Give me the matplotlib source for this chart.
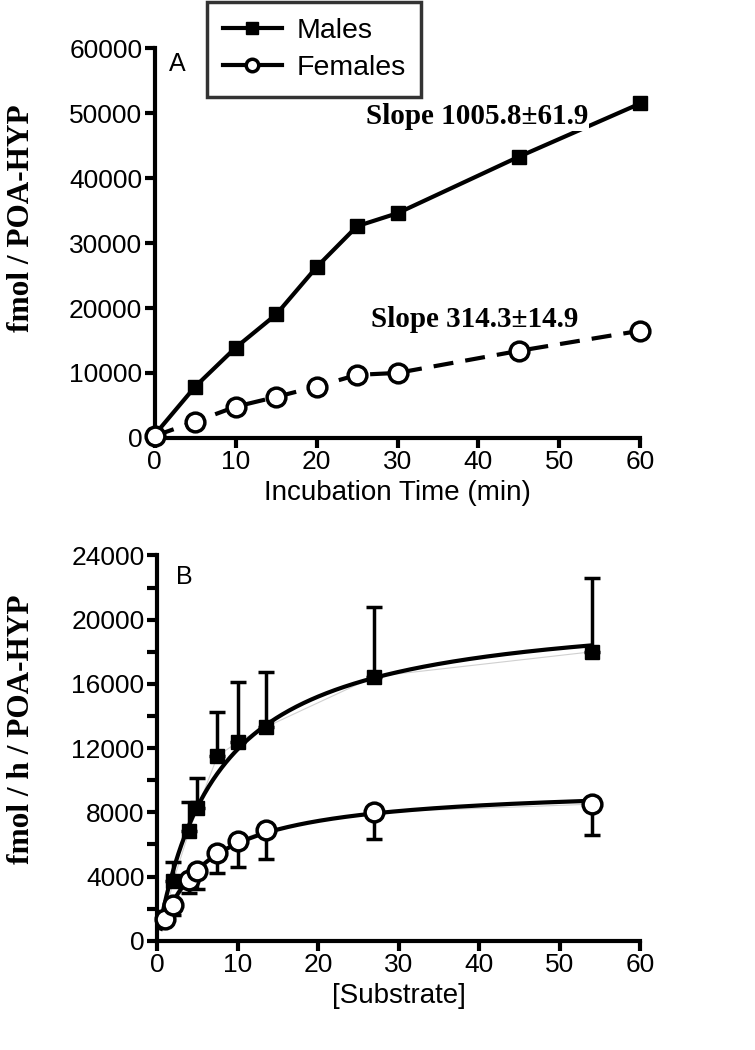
import numpy as np
import matplotlib
matplotlib.use('Agg')
import matplotlib.pyplot as plt
from matplotlib.ticker import MultipleLocator

# panel A: time course
time_min = [0, 5, 10, 15, 20, 25, 30, 45, 60]
males_a = [500, 7900, 13900, 19000, 26300, 32600, 34600, 43300, 51500]
females_a = [300, 2500, 4800, 6300, 7900, 9700, 10000, 13400, 16500]

# panel B: substrate saturation (mean, SEM)
substrate = [1, 2, 4, 5, 7.5, 10, 13.5, 27, 54]
males_b = [1500, 3700, 6830, 8240, 11490, 12380, 13310, 16460, 18000]
males_b_err = [300, 1220, 1820, 1900, 2750, 3720, 3420, 4300, 4600]
females_b = [1370, 2240, 3790, 4370, 5450, 6230, 6890, 8010, 8510]
females_b_err = [200, 625, 810, 1160, 1250, 1610, 1820, 1690, 1930]

SANS = 'Liberation Sans'
SERIF = 'Liberation Serif'
LW = 3
TICK_FS = 19
LABEL_FS = 20
YLAB_FS = 22.5


def mm_fit(x, y):
    # Michaelis-Menten fit: grid over Km, least squares for Vmax
    x = np.asarray(x, float); y = np.asarray(y, float)
    best = None
    for km in np.linspace(0.1, 40, 2000):
        g = x / (km + x)
        vmax = np.dot(g, y) / np.dot(g, g)
        sse = np.sum((y - vmax * g) ** 2)
        if best is None or sse < best[0]:
            best = (sse, vmax, km)
    return best[1], best[2]


def style_axes(ax):
    for s in ['top', 'right']:
        ax.spines[s].set_visible(False)
    for s in ['left', 'bottom']:
        ax.spines[s].set_linewidth(LW)
    ax.tick_params(which='both', width=LW, length=7, labelsize=TICK_FS, pad=2)
    for lab in ax.get_xticklabels() + ax.get_yticklabels():
        lab.set_family(SANS)


fig = plt.figure(figsize=(7.55, 10.5), dpi=100)

# ---- panel A ----
ax1 = fig.add_axes([0.205, 0.583, 0.643, 0.371])
ax1.plot(time_min, males_a, '-', color='k', lw=LW, marker='s', ms=9.5,
         clip_on=False, zorder=3, label='Males')
ax1.plot(time_min, females_a, '--', color='k', lw=LW, dashes=(4.8, 2.9), marker='o', ms=13.5,
         mfc='white', mec='k', mew=2.5, clip_on=False, zorder=3, label='Females')
ax1.set_xlim(0, 60)
ax1.set_ylim(0, 60000)
ax1.xaxis.set_major_locator(MultipleLocator(10))
ax1.yaxis.set_major_locator(MultipleLocator(10000))
style_axes(ax1)
ax1.set_xlabel('Incubation Time (min)', fontsize=LABEL_FS, family=SANS, labelpad=4)
ax1.set_ylabel('fmol / POA-HYP', fontsize=YLAB_FS, family=SERIF, fontweight='bold')
ax1.yaxis.set_label_coords(-0.245, 0.564)
ax1.text(0.03, 0.99, 'A', transform=ax1.transAxes, fontsize=18, family=SANS, va='top')
ax1.text(39.8, 49500, 'Slope 1005.8±61.9', fontsize=21, family=SERIF, fontweight='bold',
         ha='center', va='center', zorder=4,
         bbox=dict(facecolor='white', edgecolor='none', pad=0.5))
ax1.text(39.6, 18300, 'Slope 314.3±14.9', fontsize=21, family=SERIF, fontweight='bold',
         ha='center', va='center', zorder=4,
         bbox=dict(facecolor='white', edgecolor='none', pad=0.5))

leg = fig.legend(loc='upper left', bbox_to_anchor=(0.274, 0.998), frameon=True, fancybox=False,
                 prop={'family': SANS, 'size': 20.5}, handlelength=2.1, borderpad=0.55,
                 labelspacing=0.4, handletextpad=0.5, borderaxespad=0)
leg.get_frame().set_edgecolor('k')
leg.get_frame().set_linewidth(2.5)
for h in leg.get_lines():
    h.set_linestyle('-')
    h.set_markersize(9)

# ---- panel B ----
ax2 = fig.add_axes([0.208, 0.104, 0.640, 0.367])
ax2.plot(substrate, males_b, '-', color='#d0d0d0', lw=0.8, zorder=1)
ax2.plot(substrate, females_b, '-', color='#d0d0d0', lw=0.8, zorder=1)

xs = np.asarray(substrate, float)
for y in (males_b, females_b):
    vmax, km = mm_fit(substrate, y)
    xf = np.linspace(0.5, xs.max(), 300)
    ax2.plot(xf, vmax * xf / (km + xf), '-', color='k', lw=LW, zorder=2)

ax2.errorbar(substrate, males_b, yerr=[np.zeros(len(males_b_err)), males_b_err], fmt='s',
             color='k', ms=9.5, elinewidth=2.5, capsize=6, capthick=2.5, zorder=3, clip_on=False)
ax2.errorbar(substrate, females_b, yerr=[females_b_err, np.zeros(len(females_b_err))], fmt='o',
             color='k', ms=13.5, mfc='white', mec='k', mew=2.5, elinewidth=2.5, capsize=6,
             capthick=2.5, zorder=4, clip_on=False)
ax2.set_xlim(0, 60)
ax2.set_ylim(0, 24000)
ax2.xaxis.set_major_locator(MultipleLocator(10))
ax2.yaxis.set_major_locator(MultipleLocator(4000))
ax2.yaxis.set_minor_locator(MultipleLocator(2000))
style_axes(ax2)
ax2.set_xlabel('[Substrate]', fontsize=LABEL_FS, family=SANS, labelpad=4)
ax2.set_ylabel('fmol / h / POA-HYP', fontsize=YLAB_FS, family=SERIF, fontweight='bold')
ax2.yaxis.set_label_coords(-0.25, 0.549)
ax2.text(0.04, 0.975, 'B', transform=ax2.transAxes, fontsize=18, family=SANS, va='top')

fig.savefig('out.png', dpi=100)
